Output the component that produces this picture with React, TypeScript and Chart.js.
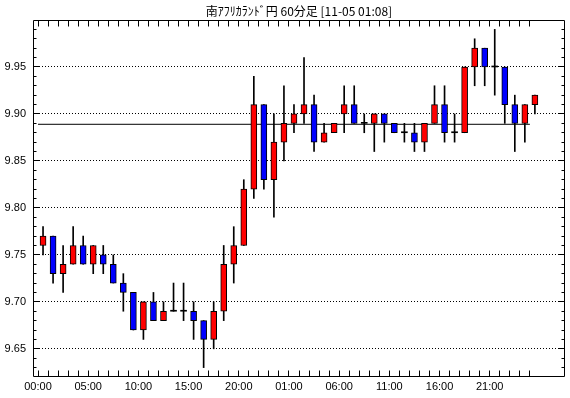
import React, { useEffect, useRef } from 'react';
import { Chart, registerables } from 'chart.js';

Chart.register(...registerables);

const TITLE = '南ｱﾌﾘｶﾗﾝﾄﾞ円 60分足 [11-05 01:08]';

const hours = [
  '00:00', '01:00', '02:00', '03:00', '04:00', '05:00', '06:00', '07:00', '08:00', '09:00',
  '10:00', '11:00', '12:00', '13:00', '14:00', '15:00', '16:00', '17:00', '18:00', '19:00',
  '20:00', '21:00', '22:00', '23:00', '00:00', '01:00', '02:00', '03:00', '04:00', '05:00',
  '06:00', '07:00', '08:00', '09:00', '10:00', '11:00', '12:00', '13:00', '14:00', '15:00',
  '16:00', '17:00', '18:00', '19:00', '20:00', '21:00', '22:00', '23:00', '00:00', '01:00',
];

const opens = [
  9.76, 9.77, 9.73, 9.74, 9.76, 9.74, 9.75, 9.74, 9.72, 9.71,
  9.67, 9.70, 9.68, 9.69, 9.69, 9.69, 9.68, 9.66, 9.69, 9.74,
  9.76, 9.82, 9.91, 9.83, 9.87, 9.89, 9.90, 9.91, 9.87, 9.88,
  9.90, 9.91, 9.89, 9.89, 9.90, 9.89, 9.88, 9.88, 9.87, 9.89,
  9.91, 9.88, 9.88, 9.95, 9.97, 9.95, 9.95, 9.91, 9.89, 9.91,
];
const highs = [
  9.78, 9.77, 9.76, 9.78, 9.77, 9.76, 9.76, 9.75, 9.73, 9.71,
  9.70, 9.71, 9.70, 9.72, 9.72, 9.70, 9.68, 9.70, 9.76, 9.78,
  9.83, 9.94, 9.91, 9.90, 9.93, 9.91, 9.96, 9.92, 9.89, 9.89,
  9.93, 9.93, 9.90, 9.90, 9.90, 9.89, 9.89, 9.89, 9.89, 9.93,
  9.93, 9.90, 9.95, 9.98, 9.97, 9.99, 9.95, 9.92, 9.91, 9.92,
];
const lows = [
  9.75, 9.72, 9.71, 9.74, 9.74, 9.73, 9.73, 9.72, 9.69, 9.67,
  9.66, 9.68, 9.68, 9.69, 9.68, 9.66, 9.63, 9.65, 9.68, 9.72,
  9.76, 9.81, 9.82, 9.79, 9.85, 9.88, 9.89, 9.86, 9.87, 9.88,
  9.88, 9.89, 9.88, 9.86, 9.87, 9.88, 9.87, 9.86, 9.86, 9.89,
  9.87, 9.87, 9.88, 9.93, 9.93, 9.92, 9.89, 9.86, 9.87, 9.90,
];
const closes = [
  9.77, 9.73, 9.74, 9.76, 9.74, 9.76, 9.74, 9.72, 9.71, 9.67,
  9.70, 9.68, 9.69, 9.69, 9.69, 9.68, 9.66, 9.69, 9.74, 9.76,
  9.82, 9.91, 9.83, 9.87, 9.89, 9.90, 9.91, 9.87, 9.88, 9.89,
  9.91, 9.89, 9.89, 9.90, 9.89, 9.88, 9.88, 9.87, 9.89, 9.91,
  9.88, 9.88, 9.95, 9.97, 9.95, 9.95, 9.91, 9.89, 9.91, 9.92,
];

const refLevel = 9.889;

const yTickLabels = ['9.65', '9.70', '9.75', '9.80', '9.85', '9.90', '9.95'];
const Y_MIN = 9.62;
const Y_MAX = 10.0;
const X_MIN = -1;
const X_MAX = 52;

const UP_COLOR = '#FF0000';
const DOWN_COLOR = '#0000FF';

const align = (p: number) => Math.round(p - 0.5) + 0.5;

const framePlugin = {
  id: 'frameTicks',
  afterDraw(chart: any) {
    const { ctx, chartArea: a, scales } = chart;
    const xs = scales.x;
    const ys = scales.y;
    const L = Math.round(a.left) + 0.5;
    const R = Math.round(a.right) - 0.5;
    const T = Math.round(a.top) + 0.5;
    const B = Math.round(a.bottom) - 0.5;
    ctx.save();
    ctx.setLineDash([]);
    ctx.strokeStyle = '#000';
    ctx.lineWidth = 1;
    ctx.beginPath();
    ctx.rect(L, T, R - L, B - T);
    ys.ticks.forEach((t: any) => {
      const py = align(ys.getPixelForValue(t.value));
      if (py <= T + 1 || py >= B - 1) return;
      const major = yTickLabels.includes(t.value.toFixed(2));
      const len = major ? 6 : 3;
      ctx.moveTo(L, py);
      ctx.lineTo(L + len, py);
      ctx.moveTo(R, py);
      ctx.lineTo(R - len, py);
    });
    xs.ticks.forEach((t: any) => {
      const px = align(xs.getPixelForValue(t.value));
      ctx.moveTo(px, T);
      ctx.lineTo(px, T + 6);
      ctx.moveTo(px, B);
      ctx.lineTo(px, B - 6);
    });
    ctx.stroke();
    ctx.restore();
  },
};

export default function App() {
  const ref = useRef<HTMLCanvasElement | null>(null);

  useEffect(() => {
    document.body.style.margin = '0';
    const canvas = ref.current;
    if (!canvas) return;

    const bodyColors = opens.map((o, i) =>
      closes[i] > o ? UP_COLOR : closes[i] < o ? DOWN_COLOR : '#000000'
    );
    const bodyBorders = opens.map((o, i) => (closes[i] === o ? 0 : 1));

    const chart = new Chart(canvas, {
      type: 'bar',
      data: {
        datasets: [
          {
            type: 'bar',
            label: 'body',
            order: 0,
            grouped: false,
            data: opens.map((o, i) => ({ x: i, y: [o, closes[i]] })),
            backgroundColor: bodyColors,
            borderColor: '#000000',
            borderWidth: bodyBorders,
            borderSkipped: false,
            barThickness: 6,
            minBarLength: 1,
          } as any,
          {
            type: 'bar',
            label: 'wick',
            order: 1,
            grouped: false,
            data: lows.map((l, i) => ({ x: i, y: [l, highs[i]] })),
            backgroundColor: '#000000',
            borderWidth: 0,
            barThickness: 1,
          } as any,
          {
            type: 'line',
            label: 'ref',
            order: 2,
            data: [
              { x: -0.5, y: refLevel },
              { x: hours.length - 1.5, y: refLevel },
            ],
            borderColor: '#000000',
            borderWidth: 1,
            pointRadius: 0,
            fill: false,
          } as any,
        ],
      },
      options: {
        responsive: false,
        animation: false,
        events: [],
        layout: { padding: { left: 0, right: 5, top: 0, bottom: 0 } },
        plugins: {
          legend: { display: false },
          tooltip: { enabled: false },
          title: {
            display: true,
            text: TITLE,
            fullSize: false,
            color: '#000',
            font: { family: '"Noto Sans CJK JP"', size: 12, weight: 'normal' as any },
            padding: { top: 4, bottom: 1.6 },
          },
        },
        scales: {
          x: {
            type: 'linear',
            min: X_MIN,
            max: X_MAX,
            offset: false,
            afterBuildTicks: (scale: any) => {
              scale.ticks = hours.map((_, k) => ({ value: k - 0.5 }));
            },
            afterFit: (scale: any) => {
              scale.height = 21;
            },
            grid: { display: false, drawTicks: false },
            border: { display: false },
            ticks: {
              autoSkip: false,
              maxRotation: 0,
              minRotation: 0,
              padding: 3,
              color: '#000',
              font: { family: '"Liberation Sans"', size: 11 },
              callback: (value: any) => {
                const k = Math.round(Number(value) + 0.5);
                return k % 5 === 0 ? hours[k] : '';
              },
            },
          },
          y: {
            type: 'linear',
            min: Y_MIN,
            max: Y_MAX,
            afterBuildTicks: (scale: any) => {
              const n = Math.round((Y_MAX - Y_MIN) * 100);
              const t: any[] = [];
              for (let i = 0; i <= n; i++) t.push({ value: Math.round(Y_MIN * 100 + i) / 100 });
              scale.ticks = t;
            },
            afterFit: (scale: any) => {
              scale.width = 33;
            },
            grid: {
              drawTicks: false,
              lineWidth: 1,
              color: (c: any) =>
                c.tick && yTickLabels.includes(Number(c.tick.value).toFixed(2))
                  ? '#000000'
                  : 'rgba(0,0,0,0)',
            },
            border: { display: false, dash: [1, 2] },
            ticks: {
              autoSkip: false,
              padding: 7,
              color: '#000',
              font: { family: '"Liberation Sans"', size: 11 },
              callback: (value: any) => {
                const s = Number(value).toFixed(2);
                return yTickLabels.includes(s) ? s : '';
              },
            },
          },
        },
      },
      plugins: [framePlugin],
    });

    return () => chart.destroy();
  }, []);

  return (
    <div style={{ width: 570, height: 398 }}>
      <canvas ref={ref} width={570} height={398} style={{ width: 570, height: 398, display: 'block' }} />
    </div>
  );
}
